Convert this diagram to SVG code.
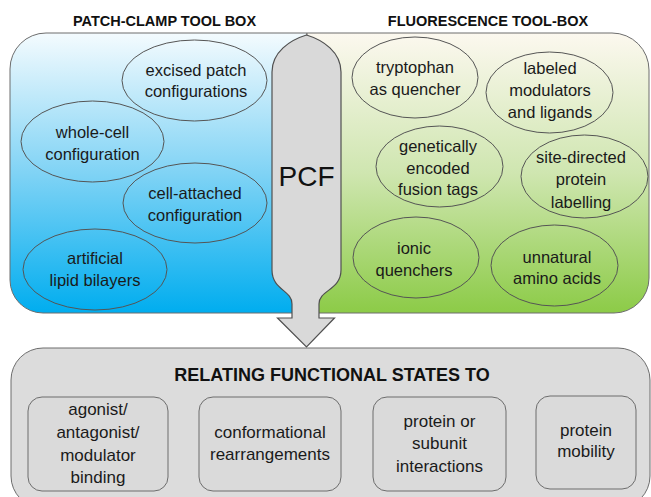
<svg xmlns="http://www.w3.org/2000/svg" width="651" height="497" viewBox="0 0 651 497">
<defs>
<linearGradient id="gBlue" x1="0" y1="0" x2="0" y2="1">
<stop offset="0" stop-color="#f4fbfe"/>
<stop offset="0.5" stop-color="#80d3f5"/>
<stop offset="1" stop-color="#00adef"/>
</linearGradient>
<linearGradient id="gGreen" x1="0" y1="0" x2="0" y2="1">
<stop offset="0" stop-color="#fcf8ef"/>
<stop offset="0.5" stop-color="#cfe6b0"/>
<stop offset="1" stop-color="#8ccb47"/>
</linearGradient>
<style>
.box{stroke:#6d6d6d;stroke-width:1}
.ell{fill:none;stroke:#555;stroke-width:1}
.t{font-family:"Liberation Sans",Arial,sans-serif;font-size:16.5px;fill:#1a1a1a;text-anchor:middle}
.tb{font-family:"Liberation Sans",Arial,sans-serif;font-size:17px;fill:#1a1a1a;text-anchor:middle}
.h{font-family:"Liberation Sans",Arial,sans-serif;font-weight:bold;fill:#111;text-anchor:middle}
.inner{fill:#dadada;stroke:#6d6d6d;stroke-width:1}
</style>
</defs>
<rect width="651" height="497" fill="#fff"/>
<text class="h" x="164.5" y="26" font-size="14.5">PATCH-CLAMP TOOL BOX</text>
<text class="h" x="488" y="26" font-size="14.5">FLUORESCENCE TOOL-BOX</text>

<g id="patch-clamp-box">
<path class="box" fill="url(#gBlue)" d="M307,33 L46,33 A36,36 0 0 0 10,69 L10,280 A33,33 0 0 0 43,313 L307,313 Z"/>
</g>
<g id="fluorescence-box">
<path class="box" fill="url(#gGreen)" d="M307,33 L612,33 A37,37 0 0 1 649,70 L649,278 A35,35 0 0 1 614,313 L307,313 Z"/>
</g>

<g id="excised-patch">
<ellipse class="ell" cx="194.5" cy="80.5" rx="72.5" ry="40.5"/>
<text class="t" x="196" y="76">excised patch</text>
<text class="t" x="196" y="97">configurations</text>
</g>
<g id="whole-cell">
<ellipse class="ell" cx="92.5" cy="141.5" rx="71.5" ry="40.5"/>
<text class="t" x="92.5" y="138">whole-cell</text>
<text class="t" x="92.5" y="160">configuration</text>
</g>
<g id="cell-attached">
<ellipse class="ell" cx="195" cy="203" rx="72" ry="40"/>
<text class="t" x="195" y="199">cell-attached</text>
<text class="t" x="195" y="221">configuration</text>
</g>
<g id="artificial-bilayers">
<ellipse class="ell" cx="95" cy="269.5" rx="72" ry="40.5"/>
<text class="t" x="95" y="264">artificial</text>
<text class="t" x="95" y="286">lipid bilayers</text>
</g>

<g id="tryptophan">
<ellipse class="ell" cx="415" cy="77.5" rx="63" ry="40.5"/>
<text class="t" x="415" y="73">tryptophan</text>
<text class="t" x="415" y="95">as quencher</text>
</g>
<g id="labeled-modulators">
<ellipse class="ell" cx="549.5" cy="92.5" rx="63.5" ry="40.5"/>
<text class="t" x="550" y="74">labeled</text>
<text class="t" x="550" y="96">modulators</text>
<text class="t" x="550" y="118">and ligands</text>
</g>
<g id="fusion-tags">
<ellipse class="ell" cx="439.5" cy="166.5" rx="63.5" ry="40.5"/>
<text class="t" x="438" y="152">genetically</text>
<text class="t" x="438" y="174">encoded</text>
<text class="t" x="438" y="195">fusion tags</text>
</g>
<g id="site-directed">
<ellipse class="ell" cx="584.5" cy="176.5" rx="63.5" ry="41.5"/>
<text class="t" x="581" y="163">site-directed</text>
<text class="t" x="581" y="185">protein</text>
<text class="t" x="581" y="208">labelling</text>
</g>
<g id="ionic-quenchers">
<ellipse class="ell" cx="416" cy="257.5" rx="63" ry="40.5"/>
<text class="t" x="414" y="254">ionic</text>
<text class="t" x="414" y="276">quenchers</text>
</g>
<g id="unnatural-amino-acids">
<ellipse class="ell" cx="554.5" cy="265.5" rx="63.5" ry="40.5"/>
<text class="t" x="557" y="263">unnatural</text>
<text class="t" x="557" y="284">amino acids</text>
</g>

<g id="functional-states">
<rect x="11" y="348" width="639" height="160" rx="32" ry="32" fill="#dcdcdc" stroke="#6d6d6d" stroke-width="1"/>
<text class="h" x="332" y="381" font-size="18">RELATING FUNCTIONAL STATES TO</text>
</g>
<g id="binding">
<rect class="inner" x="28" y="397" width="140" height="94" rx="14" ry="14"/>
<text class="tb" x="98" y="415">agonist/</text>
<text class="tb" x="98" y="438">antagonist/</text>
<text class="tb" x="98" y="461">modulator</text>
<text class="tb" x="98" y="483">binding</text>
</g>
<g id="conformational">
<rect class="inner" x="199" y="397" width="142" height="94" rx="14" ry="14"/>
<text class="tb" x="270" y="438">conformational</text>
<text class="tb" x="270" y="460">rearrangements</text>
</g>
<g id="interactions">
<rect class="inner" x="373" y="397" width="133" height="94" rx="14" ry="14"/>
<text class="tb" x="439.5" y="427">protein or</text>
<text class="tb" x="439.5" y="449">subunit</text>
<text class="tb" x="439.5" y="472">interactions</text>
</g>
<g id="mobility">
<rect class="inner" x="536" y="396" width="100" height="93" rx="14" ry="14"/>
<text class="tb" x="586" y="436">protein</text>
<text class="tb" x="586" y="457">mobility</text>
</g>

<g id="connectors">
<g id="pcf-arrow">
<path d="M272,72 C272,52 290,40 306.5,35 C323,40 341,52 341,72 L341,270 C341,290 319,290 319,304 L319,318 L334.5,318 L306.5,347 L277.5,318 L292,318 L292,304 C292,290 272,290 272,270 Z" fill="#d9d9d9" stroke="#505050" stroke-width="1.2"/>
<text x="306.5" y="186" font-family="'Liberation Sans',Arial,sans-serif" font-size="28" fill="#111" text-anchor="middle">PCF</text>
</g>
</g>
</svg>
